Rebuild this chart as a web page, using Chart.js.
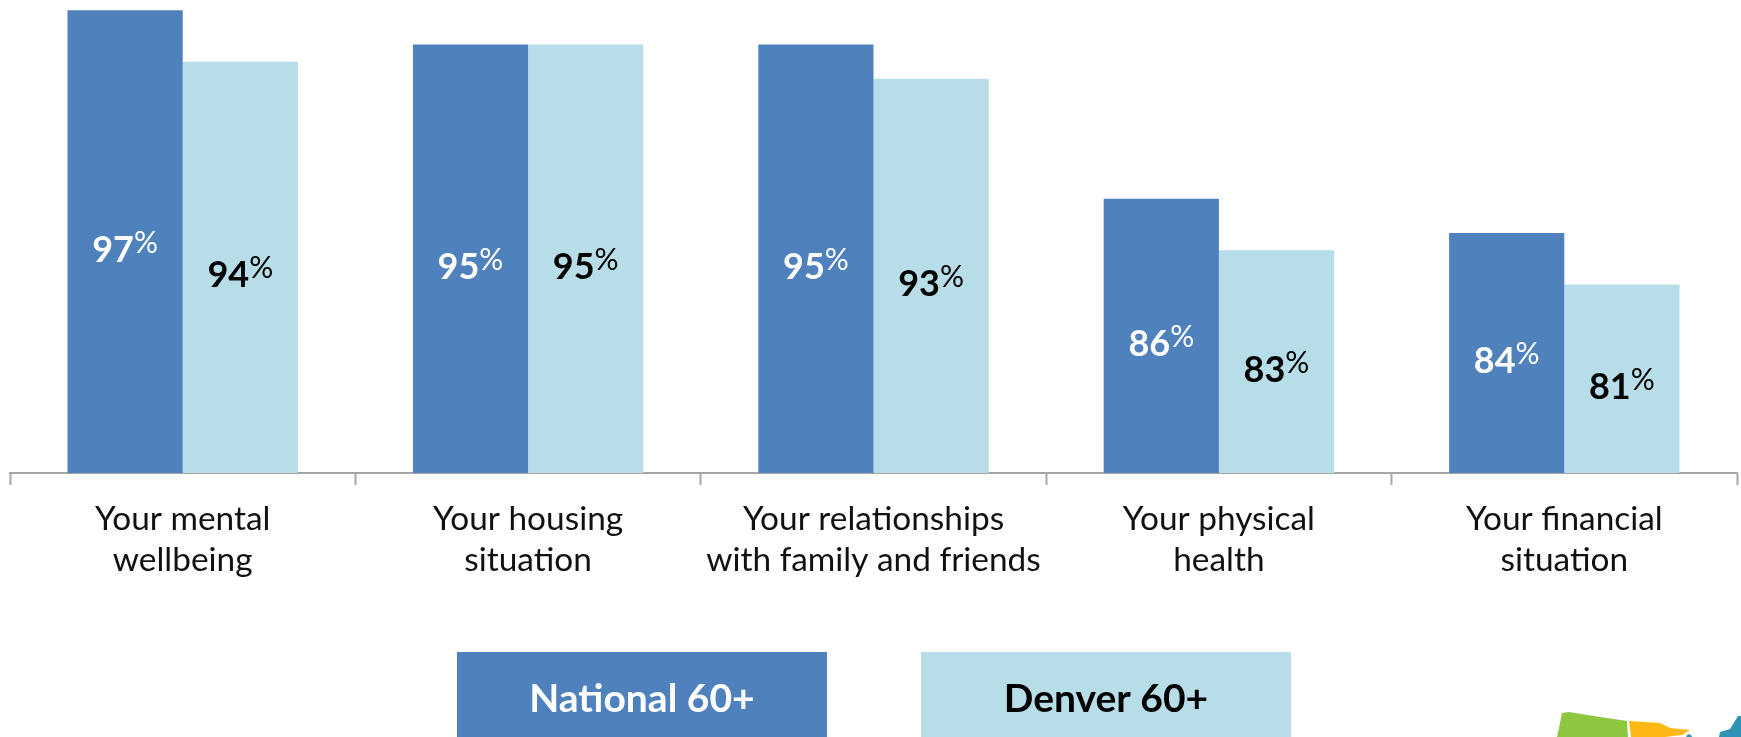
<!DOCTYPE html>
<html><head><meta charset="utf-8">
<style>html,body{margin:0;padding:0;background:#fff;overflow:hidden}#w{position:absolute;left:0;top:0;width:1741px;height:737px}</style>
<script src="https://cdn.jsdelivr.net/npm/chart.js@4"></script></head>
<body><div id="w"><canvas id="c"></canvas></div>
<script>
const categories=[["Your mental","wellbeing"],["Your housing","situation"],["Your relationships","with family and friends"],["Your physical","health"],["Your financial","situation"]];
const national=[97,95,95,86,84];
const denver=[94,95,93,83,81];
const seriesNames=["National 60+","Denver 60+"];
const colors=["#4F81BD","#B7DEE8"];
const textColors=["#FFFFFF","#000000"];
const FONT="Lato, Carlito, sans-serif";

const valueLabels={id:"valueLabels",afterDraw(ch){
  const c=ch.ctx;c.save();c.textBaseline="alphabetic";
  const ys=ch.scales.y;
  ch.data.datasets.forEach((d,i)=>{ch.getDatasetMeta(i).data.forEach((b,j)=>{
    const num=String(d.data[j]);
    const digitFont="700 36px "+FONT, pctFont="400 30px "+FONT;
    c.font=digitFont;const w1=c.measureText(num).width;
    c.font=pctFont;const w2=c.measureText("%").width;
    const x0=b.x-(w1+w2)/2, y=(ys.getPixelForValue(d.data[j])+ys.bottom)/2+20;
    c.fillStyle=textColors[i];
    c.font=digitFont;c.textAlign="left";c.fillText(num,x0,y);
    c.font=pctFont;c.fillText("%",x0+w1,y-9);
  });});
  c.restore();
}};
const legendBoxes={id:"legendBoxes",afterDraw(ch){
  const c=ch.ctx;c.save();
  const boxes=[[457,370],[921,370]];
  boxes.forEach((b,i)=>{
    c.fillStyle=colors[i];c.fillRect(b[0],652,b[1],85);
    c.fillStyle=textColors[i];c.font="700 39px "+FONT;c.textAlign="center";c.textBaseline="middle";
    c.fillText(seriesNames[i],b[0]+b[1]/2,699);
  });
  c.restore();
}};
const cornerMap={id:"cornerMap",afterDraw(ch){
  const c=ch.ctx;c.save();
  const shapes=[["#8DC63F",[[1562,713],[1569,712],[1600,717],[1627,721],[1628,737],[1557,737],[1559,728]]],
    ["#FDB813",[[1629,721],[1660,723],[1670,728],[1690,730],[1682,735],[1665,737],[1631,737]]],
    ["#2E93B5",[[1738,716],[1741,716],[1741,737],[1719,737],[1720,732],[1730,729]]],
    ["#2E93B5",[[1686,737],[1688,734],[1691,735],[1692,737]]]];
  shapes.forEach(([col,p])=>{c.fillStyle=col;c.beginPath();p.forEach((q,i)=>i?c.lineTo(q[0],q[1]):c.moveTo(q[0],q[1]));c.closePath();c.fill();});
  c.restore();
}};
new Chart(document.getElementById("c"),{
  type:"bar",
  data:{labels:categories,datasets:[
    {label:seriesNames[0],data:national,backgroundColor:colors[0],borderWidth:0},
    {label:seriesNames[1],data:denver,backgroundColor:colors[1],borderWidth:0}]},
  options:{responsive:true,maintainAspectRatio:false,animation:false,
    layout:{padding:{left:10,right:4,top:0,bottom:0}},
    datasets:{bar:{categoryPercentage:0.667,barPercentage:1}},
    plugins:{legend:{display:false},tooltip:{enabled:false}},
    scales:{
      x:{offset:true,afterFit(a){a.height=264;},
         grid:{display:true,offset:true,drawOnChartArea:false,drawTicks:true,tickLength:12,tickColor:"#A6A6A6",tickWidth:2},
         border:{display:true,color:"#A6A6A6",width:2},
         ticks:{color:"#111",font:{family:FONT,size:33.4,lineHeight:1.25},padding:13,maxRotation:0,autoSkip:false}},
      y:{display:false,min:70,max:97.6,grid:{display:false}}
    }},
  plugins:[valueLabels,legendBoxes,cornerMap]
});
</script></body></html>
